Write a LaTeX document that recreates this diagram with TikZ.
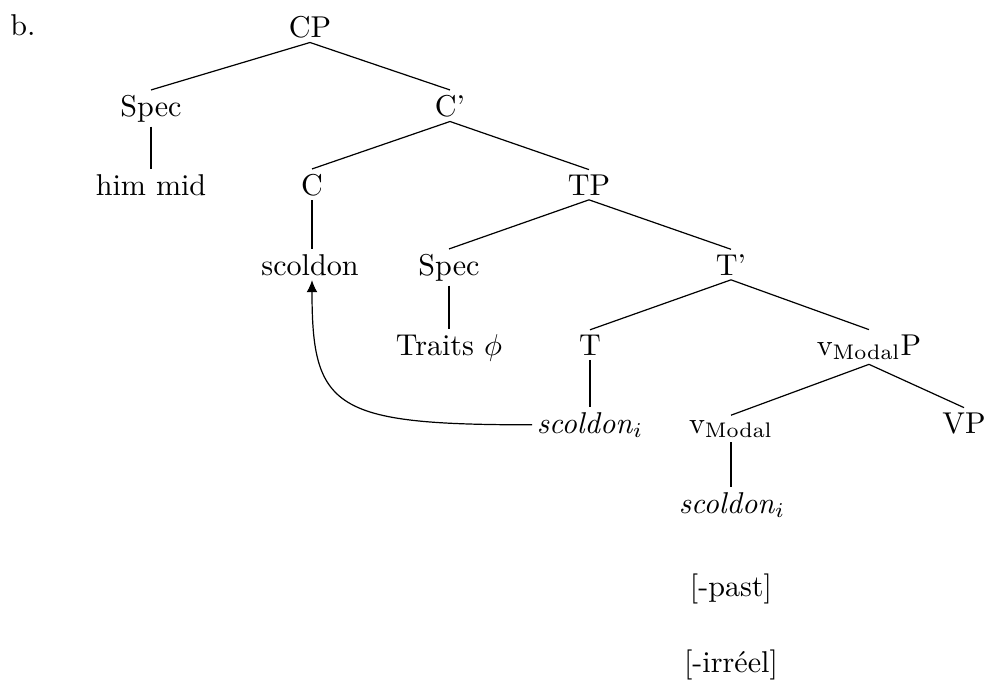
\documentclass[tikz,border=0pt]{standalone}
\usetikzlibrary{calc,arrows.meta}
\begin{document}
\begin{tikzpicture}[x=0.332pt,y=-0.332pt,
  tn/.style={anchor=base,inner sep=1.4pt,font=\fontsize{10}{12}\selectfont},
  br/.style={line width=0.4pt}]
\useasboundingbox (0,0) rectangle (997,679);
\node[tn] (lab) at (23,35) {b.};
\node[tn] (cp) at (310,37) {CP};
\node[tn] (spec1) at (151,116) {Spec};
\node[tn] (cbar) at (450,116) {C'};
\node[tn] (him) at (151,195) {him mid};
\node[tn] (c) at (312,195) {C};
\node[tn] (tp) at (589,195) {TP};
\node[tn] (sc) at (310,275) {scoldon};
\node[tn] (spec2) at (449,275) {Spec};
\node[tn] (tbar) at (731,275) {T'};
\node[tn] (traits) at (449,355) {Traits $\phi$};
\node[tn] (t) at (590,355) {T};
\node[tn] (vmp) at (869,355) {v$_{\mathrm{Modal}}$P};
\node[tn] (st) at (590,433) {\textit{scoldon}$_i$};
\node[tn] (vm) at (731,433) {v$_{\mathrm{Modal}}$};
\node[tn] (vp) at (964,433) {VP};
\node[tn] (sv) at (732,513) {\textit{scoldon}$_i$};
\node[tn] (past) at (731,596) {[-past]};
\node[tn] (irr) at (731,672) {[-irr\'eel]};
\draw[br] (cp.south) -- (spec1.north);
\draw[br] (cp.south) -- (cbar.north);
\draw[br] (spec1.south) -- (spec1.south |- him.north);
\draw[br] (cbar.south) -- (c.north);
\draw[br] (cbar.south) -- (tp.north);
\draw[br] (c.south) -- (c.south |- sc.north);
\draw[br] (tp.south) -- (spec2.north);
\draw[br] (tp.south) -- (tbar.north);
\draw[br] (spec2.south) -- (spec2.south |- traits.north);
\draw[br] (tbar.south) -- (t.north);
\draw[br] (tbar.south) -- (vmp.north);
\draw[br] (t.south) -- (t.south |- st.north);
\draw[br] (vmp.south) -- (vm.north);
\draw[br] (vmp.south) -- (vp.north);
\draw[br] (vm.south) -- (vm.south |- sv.north);
\coordinate (corner) at (c.south |- st.west);
\coordinate (arrend) at (c.south |- sc.south);
\draw[br,-{Latex[length=4pt,width=3.6pt]}] (st.west) .. controls ($(corner)+(22,0)$) and ($(corner)+(0,-16)$) .. (arrend);
\end{tikzpicture}
\end{document}
